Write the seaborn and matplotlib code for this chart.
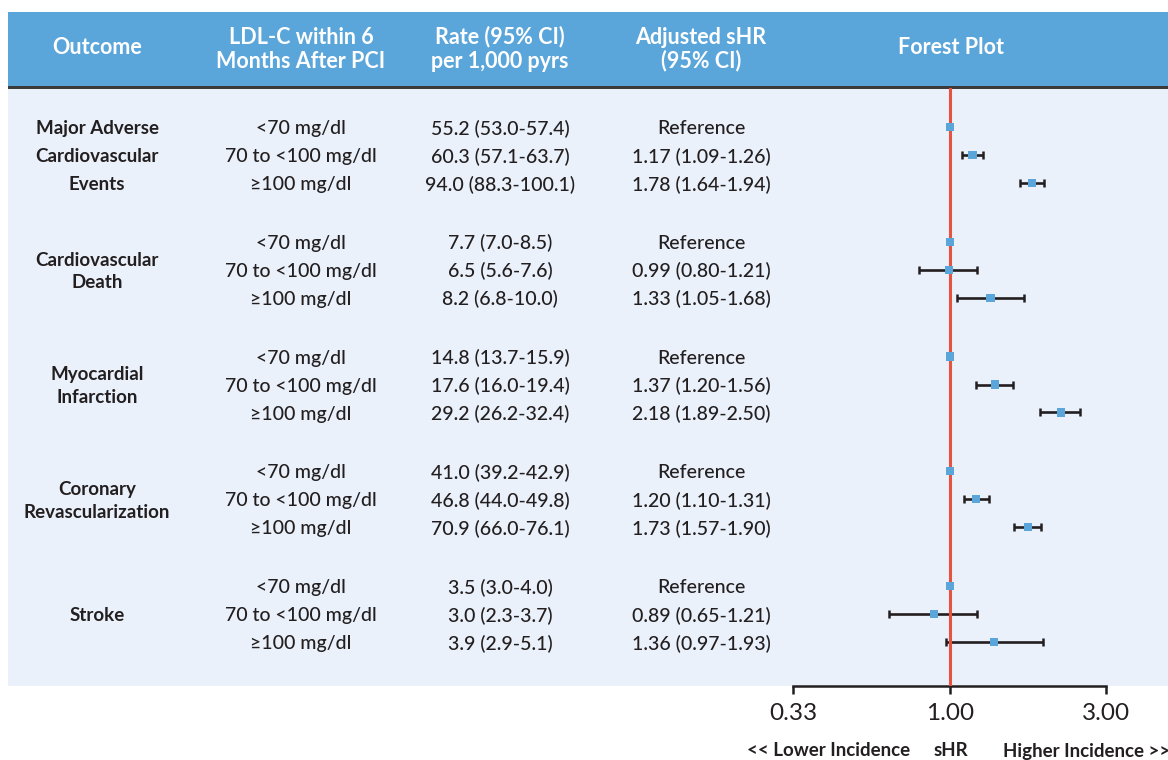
import matplotlib
matplotlib.use("Agg")
import matplotlib.pyplot as plt
import seaborn as sns
import pandas as pd
import numpy as np
from matplotlib.patches import Rectangle
from matplotlib.ticker import NullLocator, FixedLocator, FixedFormatter

# ---------------- data ----------------
headers = ["Outcome", "LDL-C within 6\nMonths After PCI", "Rate (95% CI)\nper 1,000 pyrs",
           "Adjusted sHR\n(95% CI)", "Forest Plot"]
outcomes = ["Major Adverse\nCardiovascular\nEvents", "Cardiovascular\nDeath",
            "Myocardial\nInfarction", "Coronary\nRevascularization", "Stroke"]
ldl_levels = ["<70 mg/dl", "70 to <100 mg/dl", "≥100 mg/dl"]
rate_labels = ["55.2 (53.0-57.4)", "60.3 (57.1-63.7)", "94.0 (88.3-100.1)",
               "7.7 (7.0-8.5)", "6.5 (5.6-7.6)", "8.2 (6.8-10.0)",
               "14.8 (13.7-15.9)", "17.6 (16.0-19.4)", "29.2 (26.2-32.4)",
               "41.0 (39.2-42.9)", "46.8 (44.0-49.8)", "70.9 (66.0-76.1)",
               "3.5 (3.0-4.0)", "3.0 (2.3-3.7)", "3.9 (2.9-5.1)"]
shr_labels = ["Reference", "1.17 (1.09-1.26)", "1.78 (1.64-1.94)",
              "Reference", "0.99 (0.80-1.21)", "1.33 (1.05-1.68)",
              "Reference", "1.37 (1.20-1.56)", "2.18 (1.89-2.50)",
              "Reference", "1.20 (1.10-1.31)", "1.73 (1.57-1.90)",
              "Reference", "0.89 (0.65-1.21)", "1.36 (0.97-1.93)"]
shr = [1.00, 1.17, 1.78, 1.00, 0.99, 1.33, 1.00, 1.37, 2.18, 1.00, 1.20, 1.73, 1.00, 0.89, 1.36]
shr_lo = [np.nan, 1.09, 1.64, np.nan, 0.80, 1.05, np.nan, 1.20, 1.89, np.nan, 1.10, 1.57, np.nan, 0.65, 0.97]
shr_hi = [np.nan, 1.26, 1.94, np.nan, 1.21, 1.68, np.nan, 1.56, 2.50, np.nan, 1.31, 1.90, np.nan, 1.21, 1.93]
x_ticks = [0.33, 1.0, 3.0]
x_tick_labels = ["0.33", "1.00", "3.00"]
footer = ["<< Lower Incidence", "sHR", "Higher Incidence >>"]

# ---------------- style ----------------
sns.set_theme(style="white")
plt.rcParams['font.family'] = ['Lato', 'DejaVu Sans']
HEADER_BLUE = "#5AA5DA"
BODY_BG = "#EAF1FA"
DARK = "#231F20"
RED = "#E8533F"
MARK = "#5AA5DA"

W, H = 1168, 760
fig = plt.figure(figsize=(W / 100, H / 100), dpi=100)
fig.patch.set_facecolor("white")

def fx(px):
    return px / W

def fy(py):
    return 1 - py / H

# background axes holding header band, rule and body background
bg = fig.add_axes([0, 0, 1, 1], zorder=-5)
bg.set_xlim(0, W)
bg.set_ylim(H, 0)
bg.axis("off")
bg.add_patch(Rectangle((8, 12), W - 8, 74, facecolor=HEADER_BLUE, edgecolor="none"))
bg.add_patch(Rectangle((8, 86), W - 8, 3, facecolor="#3A3A3A", edgecolor="none"))
bg.add_patch(Rectangle((8, 89), W - 8, 597, facecolor=BODY_BG, edgecolor="none"))

# column centres (pixels)
col_x = [97, 301, 500, 701, 951]

# header text
for cx, h in zip(col_x, headers):
    lines = h.split("\n")
    ys = [37, 61] if len(lines) == 2 else [48]
    for line, yy in zip(lines, ys):
        bg.text(cx, yy, line, ha="center", va="center", color="white",
                fontsize=15.5, fontweight="bold")

# row positions (row units; one unit = one table line)
GROUP_STEP = 4.1
df = pd.DataFrame({
    "group": np.repeat(np.arange(len(outcomes)), 3),
    "row": np.tile(np.arange(3), len(outcomes)),
    "shr": shr, "lo": shr_lo, "hi": shr_hi,
    "rate": rate_labels, "shr_label": shr_labels,
    "ldl": ldl_levels * len(outcomes),
})
df["ypos"] = df["group"] * GROUP_STEP + df["row"]
YLIM = (df["ypos"].max() + 44 / 28, -39 / 28)
TXT_DY = 0.06  # small downward nudge so text centres sit on the row lines

# table axes
tab = fig.add_axes([0, fy(686), 1, fy(88) - fy(686)], zorder=1)
tab.set_xlim(0, W)
tab.set_ylim(*YLIM)
tab.axis("off")
tab.patch.set_alpha(0)

for g, name in enumerate(outcomes):
    lines = name.split("\n")
    yc = g * GROUP_STEP + 1
    if len(lines) == 3:
        offs = [-1, 0, 1]
    elif len(lines) == 2:
        offs = [-0.4, 0.4]
    else:
        offs = [0]
    for line, o in zip(lines, offs):
        tab.text(col_x[0], yc + o + TXT_DY, line, ha="center", va="center", color=DARK,
                 fontsize=13.5, fontweight="bold")

for _, r in df.iterrows():
    y = r["ypos"] + TXT_DY
    tab.text(col_x[1], y, r["ldl"], ha="center", va="center", color=DARK,
             fontsize=14, fontweight="medium")
    tab.text(col_x[2], y, r["rate"], ha="center", va="center", color=DARK,
             fontsize=14, fontweight="medium")
    tab.text(col_x[3], y, r["shr_label"], ha="center", va="center", color=DARK,
             fontsize=14, fontweight="medium")

# forest axes
ax = fig.add_axes([fx(793), fy(686), fx(1106) - fx(793), fy(88) - fy(686)], zorder=2)
ax.patch.set_alpha(0)
ci = df.dropna(subset=["lo", "hi"])
ax.errorbar(ci["shr"], ci["ypos"], xerr=[ci["shr"] - ci["lo"], ci["hi"] - ci["shr"]],
            fmt="none", ecolor=DARK, elinewidth=1.9, capsize=2.8, capthick=1.8, zorder=2)
ax.axvline(1.0, color=RED, lw=2.2, zorder=3)
sns.scatterplot(data=df, x="shr", y="ypos", marker="s", s=36, color=MARK,
                edgecolor="none", linewidth=0, ax=ax, zorder=4, legend=False)
ax.set_xscale("log")
ax.set_xlim(x_ticks[0], x_ticks[-1])
ax.set_ylim(*YLIM)
ax.xaxis.set_major_locator(FixedLocator(x_ticks))
ax.xaxis.set_major_formatter(FixedFormatter(x_tick_labels))
ax.xaxis.set_minor_locator(NullLocator())
ax.set_yticks([])
ax.set_xlabel("")
ax.set_ylabel("")
for side in ["top", "left", "right"]:
    ax.spines[side].set_visible(False)
ax.spines["bottom"].set_color(DARK)
ax.spines["bottom"].set_linewidth(1.8)
ax.tick_params(axis="x", bottom=True, direction="out", length=5.5, width=1.8,
               color=DARK, pad=7, labelsize=17.5, labelcolor=DARK)

# footer labels
bg.text(910, 751, footer[0], ha="right", va="center", color=DARK,
        fontsize=13.5, fontweight="bold")
bg.text(951, 751, footer[1], ha="center", va="center", color=DARK,
        fontsize=13.5, fontweight="bold")
bg.text(1003, 751, footer[2], ha="left", va="center", color=DARK,
        fontsize=13.5, fontweight="bold")

fig.savefig("out.png", dpi=100, facecolor="white")
